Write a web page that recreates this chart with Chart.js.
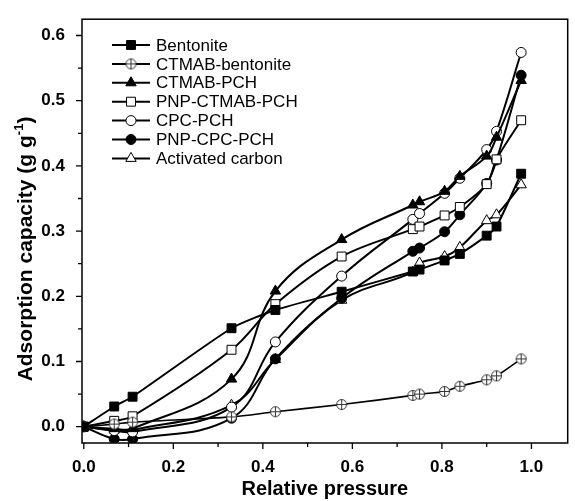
<!DOCTYPE html>
<html>
<head>
<meta charset="utf-8">
<script src="https://cdn.jsdelivr.net/npm/chart.js@4.4.1/dist/chart.umd.min.js"></script>
<style>
  html, body { margin: 0; padding: 0; background: #fff; }
  #wrap { width: 575px; height: 501px; }
</style>
</head>
<body>
<div id="wrap"><canvas id="chart" width="575" height="501"></canvas></div>
<script>
// relative pressure (shared by all samples)
const pressure = [0, 0.068, 0.109, 0.33, 0.428, 0.576, 0.735, 0.75, 0.806, 0.84, 0.90, 0.922, 0.977];

// adsorption capacity, g g-1
const bentonite     = [0, 0.031, 0.046, 0.151, 0.179, 0.207, 0.238, 0.241, 0.255, 0.265, 0.293, 0.307, 0.388];
const ctmabBent     = [0, 0.004, 0.007, 0.015, 0.023, 0.034, 0.048, 0.050, 0.054, 0.062, 0.072, 0.078, 0.104];
const ctmabPch      = [0, -0.003, -0.003, 0.073, 0.208, 0.287, 0.340, 0.345, 0.361, 0.384, 0.415, 0.444, 0.531];
const pnpCtmabPch   = [0, 0.009, 0.016, 0.118, 0.188, 0.261, 0.303, 0.307, 0.324, 0.337, 0.372, 0.410, 0.470];
const cpcPch        = [0, -0.006, -0.008, 0.030, 0.130, 0.231, 0.318, 0.327, 0.358, 0.381, 0.425, 0.453, 0.574];
const pnpCpcPch     = [0, -0.019, -0.019, 0.013, 0.104, 0.197, 0.269, 0.274, 0.299, 0.325, 0.373, 0.409, 0.539];
const activatedC    = [0, -0.005, -0.005, 0.033, 0.103, 0.194, 0.237, 0.251, 0.261, 0.275, 0.316, 0.325, 0.371];

const seriesNames = ['Bentonite', 'CTMAB-bentonite', 'CTMAB-PCH', 'PNP-CTMAB-PCH', 'CPC-PCH', 'PNP-CPC-PCH', 'Activated carbon'];

const xTicks = [0, 0.2, 0.4, 0.6, 0.8, 1.0];
const yTicks = [0, 0.1, 0.2, 0.3, 0.4, 0.5, 0.6];

const FONT = '"Liberation Sans", Arial, sans-serif';

// circle with a plus inside, used for CTMAB-bentonite
function crossCircle() {
  const c = document.createElement('canvas');
  c.width = 13; c.height = 13;
  const g = c.getContext('2d');
  g.strokeStyle = '#333';
  g.lineWidth = 1;
  g.fillStyle = '#fff';
  g.beginPath(); g.arc(6.5, 6.5, 5, 0, Math.PI * 2); g.fill(); g.stroke();
  g.beginPath();
  g.moveTo(6.5, 1); g.lineTo(6.5, 12);
  g.moveTo(1, 6.5); g.lineTo(12, 6.5);
  g.stroke();
  return c;
}

const markers = [
  { style: 'rect', r: 6.3, fill: '#000', t: 0.2 },
  { style: crossCircle(), r: 6, fill: '#fff', t: 0.3 },
  { style: 'triangle', r: 6, fill: '#000', t: 0.4 },
  { style: 'rect', r: 6.3, fill: '#fff', t: 0.35 },
  { style: 'circle', r: 5, fill: '#fff', t: 0.4 },
  { style: 'circle', r: 5, fill: '#000', t: 0.4 },
  { style: 'triangle', r: 6, fill: '#fff', t: 0.4 }
];

const allValues = [bentonite, ctmabBent, ctmabPch, pnpCtmabPch, cpcPch, pnpCpcPch, activatedC];

const datasets = allValues.map((vals, i) => ({
  label: seriesNames[i],
  data: pressure.map((p, k) => ({ x: p, y: vals[k] })),
  showLine: true,
  borderColor: '#000',
  borderWidth: i === 1 ? 1.6 : 2,
  tension: markers[i].t,
  pointStyle: markers[i].style,
  pointRadius: markers[i].r,
  pointHoverRadius: markers[i].r,
  pointBackgroundColor: markers[i].fill,
  pointBorderColor: '#000',
  pointBorderWidth: 1
}));

// frame plus outward major/minor ticks
const frameTicks = {
  id: 'frameTicks',
  afterDatasetsDraw(chart) {
    const { ctx, chartArea: a, scales } = chart;
    ctx.save();
    ctx.strokeStyle = '#000';
    ctx.lineWidth = 1.5;
    ctx.strokeRect(a.left, a.top, a.right - a.left, a.bottom - a.top);
    ctx.lineWidth = 1.3;
    ctx.beginPath();
    xTicks.forEach((v, i) => {
      const px = scales.x.getPixelForValue(v);
      ctx.moveTo(px, a.bottom); ctx.lineTo(px, a.bottom + 6);
      if (i < xTicks.length - 1) {
        const mx = scales.x.getPixelForValue((v + xTicks[i + 1]) / 2);
        ctx.moveTo(mx, a.bottom); ctx.lineTo(mx, a.bottom + 4);
      }
    });
    yTicks.forEach((v, i) => {
      const py = scales.y.getPixelForValue(v);
      ctx.moveTo(a.left - 6, py); ctx.lineTo(a.left, py);
      if (i < yTicks.length - 1) {
        const my = scales.y.getPixelForValue((v + yTicks[i + 1]) / 2);
        ctx.moveTo(a.left - 4, my); ctx.lineTo(a.left, my);
      }
    });
    ctx.stroke();

    // y axis title with a real superscript
    ctx.translate(26, 249);
    ctx.rotate(-Math.PI / 2);
    ctx.fillStyle = '#000';
    ctx.textBaseline = 'middle';
    ctx.textAlign = 'left';
    const big = 'bold 21px ' + FONT, small = 'bold 13px ' + FONT;
    const parts = [['Adsorption capacity (g g', big, 0], ['-1', small, -7], [')', big, 0]];
    let total = 0;
    parts.forEach(p => { ctx.font = p[1]; total += ctx.measureText(p[0]).width; });
    let x = -total / 2;
    parts.forEach(p => {
      ctx.font = p[1];
      ctx.fillText(p[0], x, p[2]);
      x += ctx.measureText(p[0]).width;
    });
    ctx.restore();
  }
};

// legend inside the plot, upper left
const insideLegend = {
  id: 'insideLegend',
  afterDatasetsDraw(chart) {
    const ctx = chart.ctx;
    ctx.save();
    chart.data.datasets.forEach((ds, i) => {
      const y = 45 + i * 18.9;
      ctx.strokeStyle = '#000';
      ctx.lineWidth = 2;
      ctx.beginPath(); ctx.moveTo(112, y); ctx.lineTo(150, y); ctx.stroke();
      ctx.fillStyle = ds.pointBackgroundColor;
      ctx.lineWidth = 1;
      Chart.helpers.drawPoint(ctx, { pointStyle: ds.pointStyle, radius: ds.pointRadius, rotation: 0, borderWidth: 1 }, 131, y);
      ctx.fillStyle = '#000';
      ctx.font = '17px ' + FONT;
      ctx.textBaseline = 'middle';
      ctx.textAlign = 'left';
      ctx.fillText(ds.label, 156, y + 1);
    });
    ctx.restore();
  }
};

new Chart(document.getElementById('chart'), {
  type: 'scatter',
  data: { datasets },
  options: {
    responsive: false,
    animation: false,
    devicePixelRatio: 1,
    layout: { padding: { top: 14, right: 6, left: 0, bottom: 0 } },
    plugins: { legend: { display: false }, tooltip: { enabled: false } },
    scales: {
      x: {
        type: 'linear',
        min: -0.004,
        max: 1.081,
        afterBuildTicks: s => { s.ticks = xTicks.map(v => ({ value: v })); },
        afterFit: s => { s.height = 58; },
        grid: { display: false },
        border: { display: false },
        ticks: {
          color: '#000',
          padding: 6,
          maxRotation: 0,
          font: { family: FONT, size: 17, weight: 'bold' },
          callback: v => Number(v).toFixed(1)
        },
        title: {
          display: true,
          text: 'Relative pressure',
          color: '#000',
          padding: { top: 0, bottom: 0 },
          font: { family: FONT, size: 20, weight: 'bold' }
        }
      },
      y: {
        type: 'linear',
        min: -0.025,
        max: 0.625,
        afterBuildTicks: s => { s.ticks = yTicks.map(v => ({ value: v })); },
        afterFit: s => { s.width = 82; },
        grid: { display: false },
        border: { display: false },
        ticks: {
          color: '#000',
          padding: 9,
          font: { family: FONT, size: 17, weight: 'bold' },
          callback: v => Number(v).toFixed(1)
        }
      }
    }
  },
  plugins: [frameTicks, insideLegend]
});
</script>
</body>
</html>
